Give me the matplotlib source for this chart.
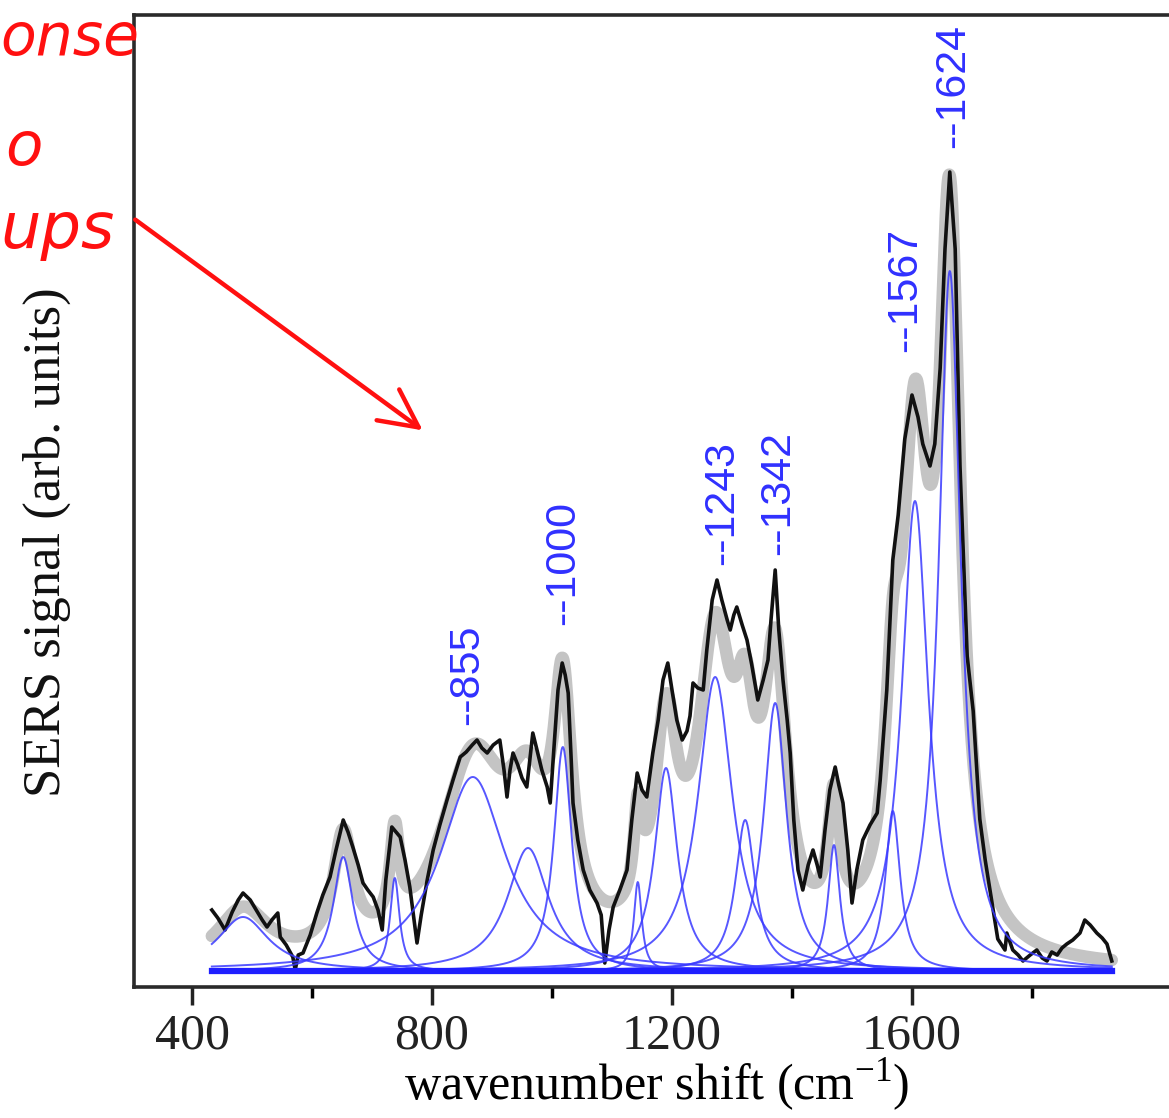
import numpy as np
import matplotlib
matplotlib.use('Agg')
import matplotlib.pyplot as plt
from matplotlib.ticker import FixedLocator

# measured SERS spectrum (wavenumber in cm-1, intensity in arb. units)
wavenumber = [433, 443, 455, 467, 477, 485, 497, 507, 517, 525, 533, 543, 547, 557, 568, 572, 577, 585, 597, 608,
              618, 630, 640, 652, 660, 668, 677, 685, 693, 702, 710, 717, 723, 733, 740, 747, 755, 763, 770, 775,
              782, 792, 802, 813, 825, 835, 847,
              857, 867, 875, 883, 892, 902, 913, 920, 925, 930, 935, 943, 950, 958, 963, 968, 975, 983, 992, 997,
              1003, 1010, 1017, 1022, 1027, 1032, 1035, 1043, 1052, 1063, 1075, 1082, 1088, 1095, 1102, 1113, 1125,
              1133, 1142, 1150, 1158, 1163, 1168, 1177, 1185, 1193, 1200, 1208, 1217, 1225,
              1230, 1235, 1243, 1252, 1258, 1267, 1275, 1283, 1292, 1297, 1303, 1308, 1317, 1325, 1333, 1343, 1352,
              1360, 1365, 1372, 1378, 1385, 1392, 1397, 1403, 1410, 1418, 1427, 1435, 1442, 1447, 1455, 1463, 1472,
              1478, 1485, 1493, 1500, 1508, 1518, 1530, 1542, 1547, 1558, 1568, 1577,
              1588, 1600, 1610, 1618, 1630, 1638, 1647, 1655, 1663, 1672, 1680, 1692, 1702, 1713, 1722, 1730, 1743,
              1755, 1758, 1768, 1777, 1785, 1797, 1808, 1817, 1825, 1833, 1842, 1850, 1858, 1868, 1880, 1888, 1897,
              1908, 1917, 1925, 1933]
intensity = [61, 53, 41, 59, 71, 78, 71, 61, 51, 44, 51, 58, 34, 26, 14, 1, 16, 18, 36, 58,
             76, 94, 121, 151, 139, 124, 106, 88, 81, 74, 61, 41, 91, 144, 139, 134, 111, 84, 51, 28,
             56, 91, 121, 146, 171, 191, 214,
             219, 226, 231, 223, 218, 226, 231, 201, 174, 201, 218, 206, 193, 184, 211, 238, 221, 201, 184, 168,
             221, 281, 308, 296, 278, 211, 168, 131, 101, 81, 68, 56, 8, 41, 64, 81, 101,
             151, 198, 181, 174, 196, 218, 251, 291, 308, 281, 251, 231, 240,
             255, 288, 283, 281, 321, 371, 391, 371, 351, 341, 356, 364, 346, 331, 306, 271, 291,
             311, 351, 401, 341, 291, 251, 218, 151, 101, 81, 106, 121, 106, 94, 141, 181, 204,
             186, 168, 121, 68, 101, 131, 146, 158, 191, 281, 411, 456,
             532, 576, 554, 527, 505, 527, 603, 722, 799, 722, 505, 315, 260, 152, 111, 81, 32,
             21, 38, 21, 16, 10, 16, 21, 13, 10, 19, 16, 23, 27, 31, 38, 51, 46,
             38, 33, 27, 10]

# fitted Lorentzian components: centre, height, half width
peak_center = [485, 652, 738, 868, 960, 1018, 1143, 1190, 1272, 1322, 1372, 1470, 1568, 1605, 1663]
peak_height = [54, 114, 93, 194, 123, 224, 89, 203, 294, 151, 268, 126, 160, 470, 700]
peak_hwhm = [52, 20, 9.5, 67, 42, 18, 8, 23, 35, 20, 23, 12, 15, 27, 22]

# band labels and where they sit in the picture
band_text = ['--855', '--1000', '--1243', '--1342', '--1567', '--1624']
band_x = [858, 1018, 1283, 1377, 1588, 1668]
band_y = [246, 346, 406, 416, 619, 823]

major_ticks = [400, 800, 1200, 1600]
minor_ticks = [600, 1000, 1400, 1800]

fig = plt.figure(figsize=(11.69, 11.18), dpi=100)
ax = fig.add_axes([134 / 1169, 131 / 1118, 1046 / 1169, 972 / 1118])

grid = np.linspace(wavenumber[0], wavenumber[-1], 2000)
total = np.zeros_like(grid)
comps = []
for c, h, w in zip(peak_center, peak_height, peak_hwhm):
    comp = h / (1 + ((grid - c) / w) ** 2)
    comps.append(comp)
    total += comp

ax.plot(grid, total, color='#c4c4c4', lw=9, solid_capstyle='round', zorder=1)
ax.plot(wavenumber, intensity, color='#111111', lw=2.6, zorder=2)
for comp in comps:
    ax.plot(grid, comp, color='#3a3aff', lw=1.4, alpha=0.85, zorder=3)
ax.plot([grid[0], grid[-1]], [0, 0], color='#1f1fff', lw=4.5, zorder=3)

for t, x, y in zip(band_text, band_x, band_y):
    ax.text(x, y, t, rotation=90, ha='center', va='bottom', color='#3030ff', fontsize=31,
            family=['Liberation Sans Narrow', 'Liberation Sans'])

ax.set_xlim(303.3, 2046.7)
ax.set_ylim(-16, 956)
ax.xaxis.set_major_locator(FixedLocator(major_ticks))
ax.xaxis.set_minor_locator(FixedLocator(minor_ticks))
ax.set_yticks([])
ax.tick_params(axis='x', which='major', direction='out', length=13, width=2.5, pad=6,
               labelsize=36, colors='#222222')
ax.tick_params(axis='x', which='minor', direction='out', length=8, width=2.5)
for lbl in ax.get_xticklabels():
    lbl.set_family('Liberation Serif')
for s in ax.spines.values():
    s.set_linewidth(2.6)
    s.set_color('#2a2a2a')

ax.set_xlabel('wavenumber shift (cm$^{\\mathregular{-1}}$)', fontsize=36, family='Liberation Serif',
              labelpad=-3)
fig.text(47 / 1169, 1 - 542 / 1118, 'SERS signal (arb. units)', rotation=90, ha='center', va='center',
         fontsize=38, family='Liberation Serif', color='#111111')

# red handwritten note (only its right part shows in the figure)
red = '#ff1010'
fig.text(0 / 1169, 1 - 55 / 1118, 'onse', ha='left', va='baseline', color=red,
         fontsize=42, style='italic', family='DejaVu Sans')
fig.text(5 / 1169, 1 - 165 / 1118, 'o', ha='left', va='baseline', color=red,
         fontsize=44, style='italic', family='DejaVu Sans')
fig.text(0 / 1169, 1 - 248 / 1118, 'ups', ha='left', va='baseline', color=red,
         fontsize=46, style='italic', family='DejaVu Sans')
fig.add_artist(matplotlib.patches.FancyArrowPatch(
    (133 / 1169, 1 - 218 / 1118), (425 / 1169, 1 - 432 / 1118), transform=fig.transFigure,
    arrowstyle='->,head_length=1.1,head_width=0.55', mutation_scale=25, color=red, lw=3.2))

fig.savefig('out.png', dpi=100)
